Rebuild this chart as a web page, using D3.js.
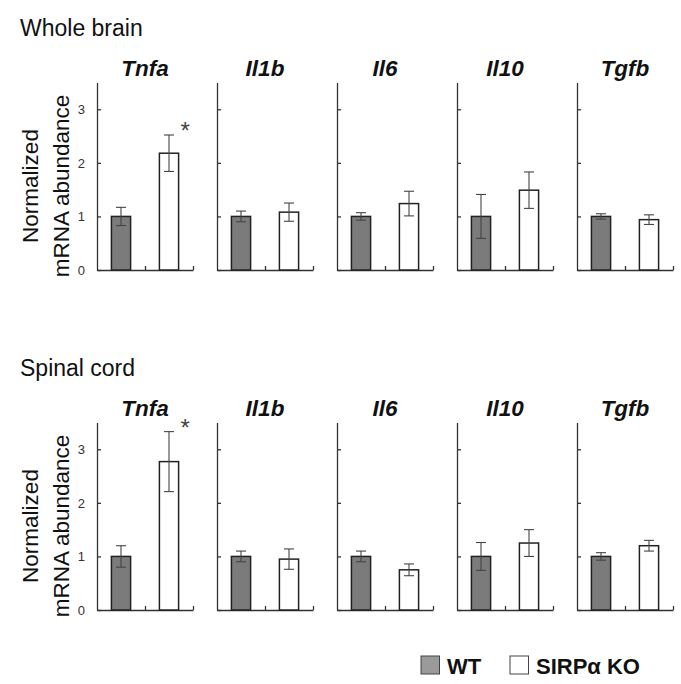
<!DOCTYPE html>
<html><head><meta charset="utf-8">
<script src="https://cdn.jsdelivr.net/npm/d3@7"></script>
<style>
html,body{margin:0;padding:0;background:#fff;}
svg{display:block;font-family:"Liberation Sans",Arial,Helvetica,sans-serif;}
</style></head>
<body>
<svg id="chart" width="681" height="684"></svg>
<script>
// ---- data ----
const genes = ["Tnfa", "Il1b", "Il6", "Il10", "Tgfb"];
const groups = ["WT", "SIRPα KO"];
const sections = ["Whole brain", "Spinal cord"];
const yTicks = [0, 1, 2, 3];

// Whole brain: mean and error per gene
const brainWT     = [1.00, 1.00, 1.00, 1.00, 1.00];
const brainWTerr  = [0.17, 0.10, 0.07, 0.41, 0.05];
const brainKO     = [2.18, 1.08, 1.24, 1.49, 0.94];
const brainKOerr  = [0.34, 0.17, 0.23, 0.34, 0.09];
const brainSig    = ["*", "", "", "", ""];

// Spinal cord
const spinalWT    = [1.00, 1.00, 1.00, 1.00, 1.00];
const spinalWTerr = [0.20, 0.10, 0.10, 0.26, 0.07];
const spinalKO    = [2.77, 0.95, 0.75, 1.25, 1.20];
const spinalKOerr = [0.56, 0.19, 0.11, 0.25, 0.10];
const spinalSig   = ["*", "", "", "", ""];

const sectionData = [
  {name: sections[0], wt: brainWT, wtErr: brainWTerr, ko: brainKO, koErr: brainKOerr, sig: brainSig},
  {name: sections[1], wt: spinalWT, wtErr: spinalWTerr, ko: spinalKO, koErr: spinalKOerr, sig: spinalSig}
];

// ---- layout ----
const svg = d3.select("#chart");
const panelW = 96, panelStep = 120, firstX = 97;
const sectionTop = [0, 340];
const plotTop = 82.5, plotBottom = 270;
const colorWT = "#7b7b7b", colorKO = "#ffffff";
const legendWT = "#9a9a9a";

const y = d3.scaleLinear().domain([0, 3.5]).range([plotBottom, plotTop]);
const xPanel = d3.scalePoint().domain(genes).range([firstX, firstX + panelStep * (genes.length - 1)]);
const xBand = d3.scaleBand().domain(groups).range([0, panelW]).paddingInner(0.6).paddingOuter(0.3);
const xTickScale = d3.scaleLinear().domain([0, 2]).range([0, panelW]);

sectionData.forEach((sec, si) => {
  const g = svg.append("g").attr("transform", `translate(0,${sectionTop[si]})`);

  g.append("text").attr("x", 20).attr("y", 36)
    .attr("font-size", 23).attr("fill", "#111").text(sec.name);

  // y-axis label
  const lab = g.append("text")
    .attr("transform", `translate(37.5,186) rotate(-90)`)
    .attr("text-anchor", "middle").attr("font-size", 22.5).attr("fill", "#111");
  lab.append("tspan").attr("x", 0).attr("dy", 0).text("Normalized");
  lab.append("tspan").attr("x", 0).attr("dy", 31).text("mRNA abundance");

  genes.forEach((gene, gi) => {
    const px = xPanel(gene);
    const p = g.append("g").attr("transform", `translate(${px},0)`);

    // title
    p.append("text").attr("x", panelW / 2).attr("y", 76)
      .attr("text-anchor", "middle").attr("font-size", 22.5)
      .attr("font-weight", "bold").attr("font-style", "italic")
      .attr("fill", "#111").text(gene);

    // y axis
    const yAxis = d3.axisLeft(y).tickValues(yTicks).tickSizeInner(-4).tickSizeOuter(0).tickPadding(12)
      .tickFormat(gi === 0 ? d3.format("d") : () => "");
    const ya = p.append("g").call(yAxis);
    ya.select(".domain").attr("stroke", "#333").attr("stroke-width", 1.3);
    ya.selectAll(".tick line").attr("stroke", "#333").attr("stroke-width", 1.3);
    ya.selectAll(".tick text").attr("font-size", 13).attr("fill", "#333")
      .attr("font-family", "Liberation Sans, Arial, sans-serif");

    // x axis
    const xAxis = d3.axisBottom(xTickScale).tickValues([1, 2]).tickSizeInner(-4).tickSizeOuter(0).tickFormat(() => "");
    const xa = p.append("g").attr("transform", `translate(0,${plotBottom})`).call(xAxis);
    xa.select(".domain").attr("stroke", "#333").attr("stroke-width", 1.3);
    xa.selectAll(".tick line").attr("stroke", "#333").attr("stroke-width", 1.3);

    const bars = [
      {grp: groups[0], v: sec.wt[gi], e: sec.wtErr[gi], fill: colorWT, sig: ""},
      {grp: groups[1], v: sec.ko[gi], e: sec.koErr[gi], fill: colorKO, sig: sec.sig[gi]}
    ];

    p.selectAll("rect.bar").data(bars).join("rect").attr("class", "bar")
      .attr("x", d => xBand(d.grp)).attr("width", xBand.bandwidth())
      .attr("y", d => y(d.v)).attr("height", d => y(0) - y(d.v))
      .attr("fill", d => d.fill).attr("stroke", "#222").attr("stroke-width", 1.5);

    const eb = p.selectAll("g.err").data(bars).join("g").attr("class", "err");
    const cx = d => xBand(d.grp) + xBand.bandwidth() / 2;
    eb.append("line").attr("x1", cx).attr("x2", cx)
      .attr("y1", d => y(d.v + d.e)).attr("y2", d => y(d.v - d.e))
      .attr("stroke", "#444").attr("stroke-width", 1.1);
    eb.append("line").attr("x1", d => cx(d) - 5).attr("x2", d => cx(d) + 5)
      .attr("y1", d => y(d.v + d.e)).attr("y2", d => y(d.v + d.e))
      .attr("stroke", "#444").attr("stroke-width", 1.1);
    eb.append("line").attr("x1", d => cx(d) - 5).attr("x2", d => cx(d) + 5)
      .attr("y1", d => y(d.v - d.e)).attr("y2", d => y(d.v - d.e))
      .attr("stroke", "#444").attr("stroke-width", 1.1);

    p.selectAll("text.sig").data(bars.filter(d => d.sig)).join("text").attr("class", "sig")
      .attr("x", d => xBand(d.grp) + xBand.bandwidth() + 2)
      .attr("y", d => y(d.v + d.e) + 4)
      .attr("font-size", 24).attr("fill", "#444").text(d => d.sig);
  });
});

// legend
const legendItems = [
  {label: groups[0], fill: legendWT, x: 421},
  {label: groups[1], fill: colorKO, x: 510}
];
const lg = svg.append("g");
legendItems.forEach(it => {
  lg.append("rect").attr("x", it.x).attr("y", 656).attr("width", 18.5).attr("height", 18)
    .attr("fill", it.fill).attr("stroke", "#444").attr("stroke-width", 1);
  lg.append("text").attr("x", it.x + 26).attr("y", 673.5)
    .attr("font-size", 22).attr("font-weight", "bold").attr("fill", "#111").text(it.label);
});
</script>
</body></html>
